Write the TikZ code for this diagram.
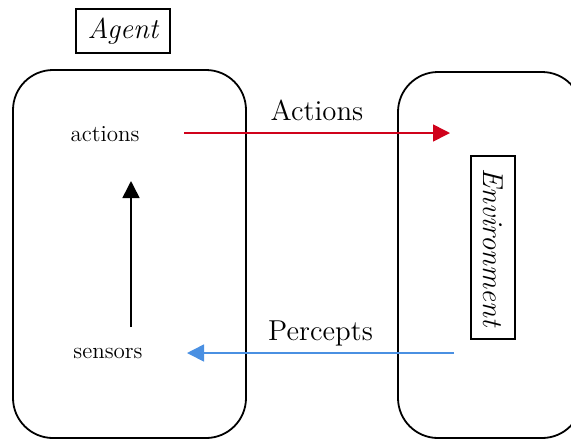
\documentclass[tikz,border=0pt]{standalone}
\usepackage{fontspec}
\usetikzlibrary{arrows.meta}
\definecolor{actred}{HTML}{D0021B}
\definecolor{percblue}{HTML}{4A90E2}
\tikzset{
  panel/.style={draw, line width=0.9pt, rounded corners=20pt},
  tag/.style={draw, line width=0.7pt, inner sep=0pt, font=\fontsize{14.4}{17}\selectfont\itshape},
  part/.style={inner sep=0pt, font=\fontsize{11.5}{14}\selectfont},
  flowlabel/.style={inner sep=0pt, anchor=base, yshift=6.5pt, font=\fontsize{14.4}{17}\selectfont},
  flow/.style={line width=0.8pt, -{Triangle[length=8.5pt,width=8.5pt]}}
}
\begin{document}
\begin{tikzpicture}[x=0.5pt, y=-0.5pt]
  \useasboundingbox (0,0) rectangle (571,440);
  % agent and environment panels
  \draw[panel] (13,70) rectangle (246,438);
  \begin{scope}
    \clip (0,0) rectangle (571,440);
    \draw[panel] (398,72) rectangle (582,438);
  \end{scope}
  % captions
  \node[tag, minimum width=47pt, minimum height=22pt] (agent) at (123,31) {Agent};
  \node[tag, rotate=-90, minimum width=91.5pt, minimum height=22pt] (env) at (493,247.5) {Environment};
  % agent parts
  \node[part] (actions) at (105,134) {actions};
  \node[part] (sensors) at (108,353) {sensors};
  % arrow end points
  \coordinate (actout) at (184,133);
  \coordinate (actin) at (450,133);
  \coordinate (percout) at (454,353);
  \coordinate (percin) at (187,353);
  \coordinate (up0) at (131,327);
  \coordinate (up1) at (131,181);
  % flows
  \draw[flow, actred] (actout) -- node[flowlabel, black] {Actions} (actin);
  \draw[flow, percblue] (percout) -- node[flowlabel, black] {Percepts} (percin);
  \draw[flow, black] (up0) -- (up1);
\end{tikzpicture}
\end{document}
